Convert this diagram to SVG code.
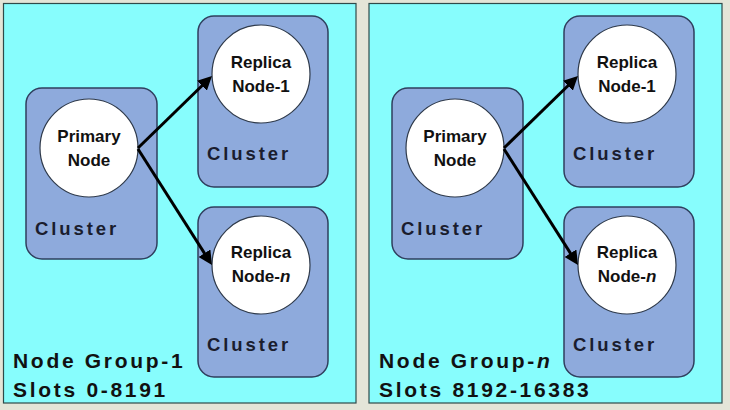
<svg xmlns="http://www.w3.org/2000/svg" width="730" height="410" viewBox="0 0 730 410">
<style>
.bg{fill:#e4e5d8}
.panel{fill:#87fdfd;stroke:#2f4a4a;stroke-width:1.2}
.cluster{fill:#8eaadc;stroke:#2f3f5e;stroke-width:1.5}
.node{fill:#ffffff;stroke:#2f3a4a;stroke-width:1.2}
.ntext{font-family:"Liberation Sans",Arial,sans-serif;font-weight:bold;font-size:17px;fill:#111;text-anchor:middle}
.ctext{font-family:"Liberation Sans",Arial,sans-serif;font-weight:bold;font-size:18.5px;letter-spacing:2.9px;fill:#1a1d2e}
.gtext{font-family:"Liberation Sans",Arial,sans-serif;font-weight:bold;font-size:21px;letter-spacing:2.7px;fill:#111}
.conn{stroke:#000;stroke-width:3;fill:none;marker-end:url(#ah)}
</style>
<defs>
<marker id="ah" markerUnits="userSpaceOnUse" markerWidth="14" markerHeight="14" refX="4" refY="7" orient="auto">
<path d="M0,0 L14,7 L0,14 z" fill="#000"/>
</marker>
</defs>
<rect class="bg" x="0" y="0" width="730" height="410"/>

<g id="group1">
<rect class="panel" x="3.5" y="3.5" width="352.5" height="399.5"/>
<text class="gtext" x="13" y="368">Node Group-1</text>
<text class="gtext" x="13" y="397">Slots 0-8191</text>
</g>
<g id="group-n">
<rect class="panel" x="369" y="3.5" width="353" height="399.5"/>
<text class="gtext" x="379" y="368">Node Group-<tspan font-style="italic">n</tspan></text>
<text class="gtext" x="379" y="397">Slots 8192-16383</text>
</g>

<g id="g1-primary-cluster">
<rect class="cluster" x="26" y="88" width="131" height="171" rx="16"/>
<text class="ctext" x="35" y="235">Cluster</text>
</g>
<g id="g1-replica1-cluster">
<rect class="cluster" x="198" y="16" width="130" height="171" rx="16"/>
<text class="ctext" x="207" y="160">Cluster</text>
</g>
<g id="g1-replican-cluster">
<rect class="cluster" x="198" y="207" width="130" height="170" rx="16"/>
<text class="ctext" x="207" y="351">Cluster</text>
</g>
<g id="g1-primary">
<circle class="node" cx="89" cy="148" r="49"/>
<text class="ntext" x="89" y="142">Primary</text>
<text class="ntext" x="89" y="166">Node</text>
</g>
<g id="g1-replica1">
<circle class="node" cx="261" cy="74" r="49"/>
<text class="ntext" x="261" y="68">Replica</text>
<text class="ntext" x="261" y="92">Node-1</text>
</g>
<g id="g1-replican">
<circle class="node" cx="261" cy="265" r="49"/>
<text class="ntext" x="261" y="258">Replica</text>
<text class="ntext" x="261" y="282">Node-<tspan font-style="italic">n</tspan></text>
</g>

<g id="gn-primary-cluster">
<rect class="cluster" x="392" y="88" width="131" height="171" rx="16"/>
<text class="ctext" x="401" y="235">Cluster</text>
</g>
<g id="gn-replica1-cluster">
<rect class="cluster" x="564" y="16" width="130" height="171" rx="16"/>
<text class="ctext" x="573" y="160">Cluster</text>
</g>
<g id="gn-replican-cluster">
<rect class="cluster" x="564" y="207" width="130" height="170" rx="16"/>
<text class="ctext" x="573" y="351">Cluster</text>
</g>
<g id="gn-primary">
<circle class="node" cx="455" cy="148" r="49"/>
<text class="ntext" x="455" y="142">Primary</text>
<text class="ntext" x="455" y="166">Node</text>
</g>
<g id="gn-replica1">
<circle class="node" cx="627" cy="74" r="49"/>
<text class="ntext" x="627" y="68">Replica</text>
<text class="ntext" x="627" y="92">Node-1</text>
</g>
<g id="gn-replican">
<circle class="node" cx="627" cy="265" r="49"/>
<text class="ntext" x="627" y="258">Replica</text>
<text class="ntext" x="627" y="282">Node-<tspan font-style="italic">n</tspan></text>
</g>

<g id="connectors">
<path class="conn" d="M138,148 L204.8,83"/>
<path class="conn" d="M138,149 L206.6,256.6"/>
<path class="conn" d="M504,148 L570.8,83"/>
<path class="conn" d="M504,149 L572.6,256.6"/>
</g>
</svg>
